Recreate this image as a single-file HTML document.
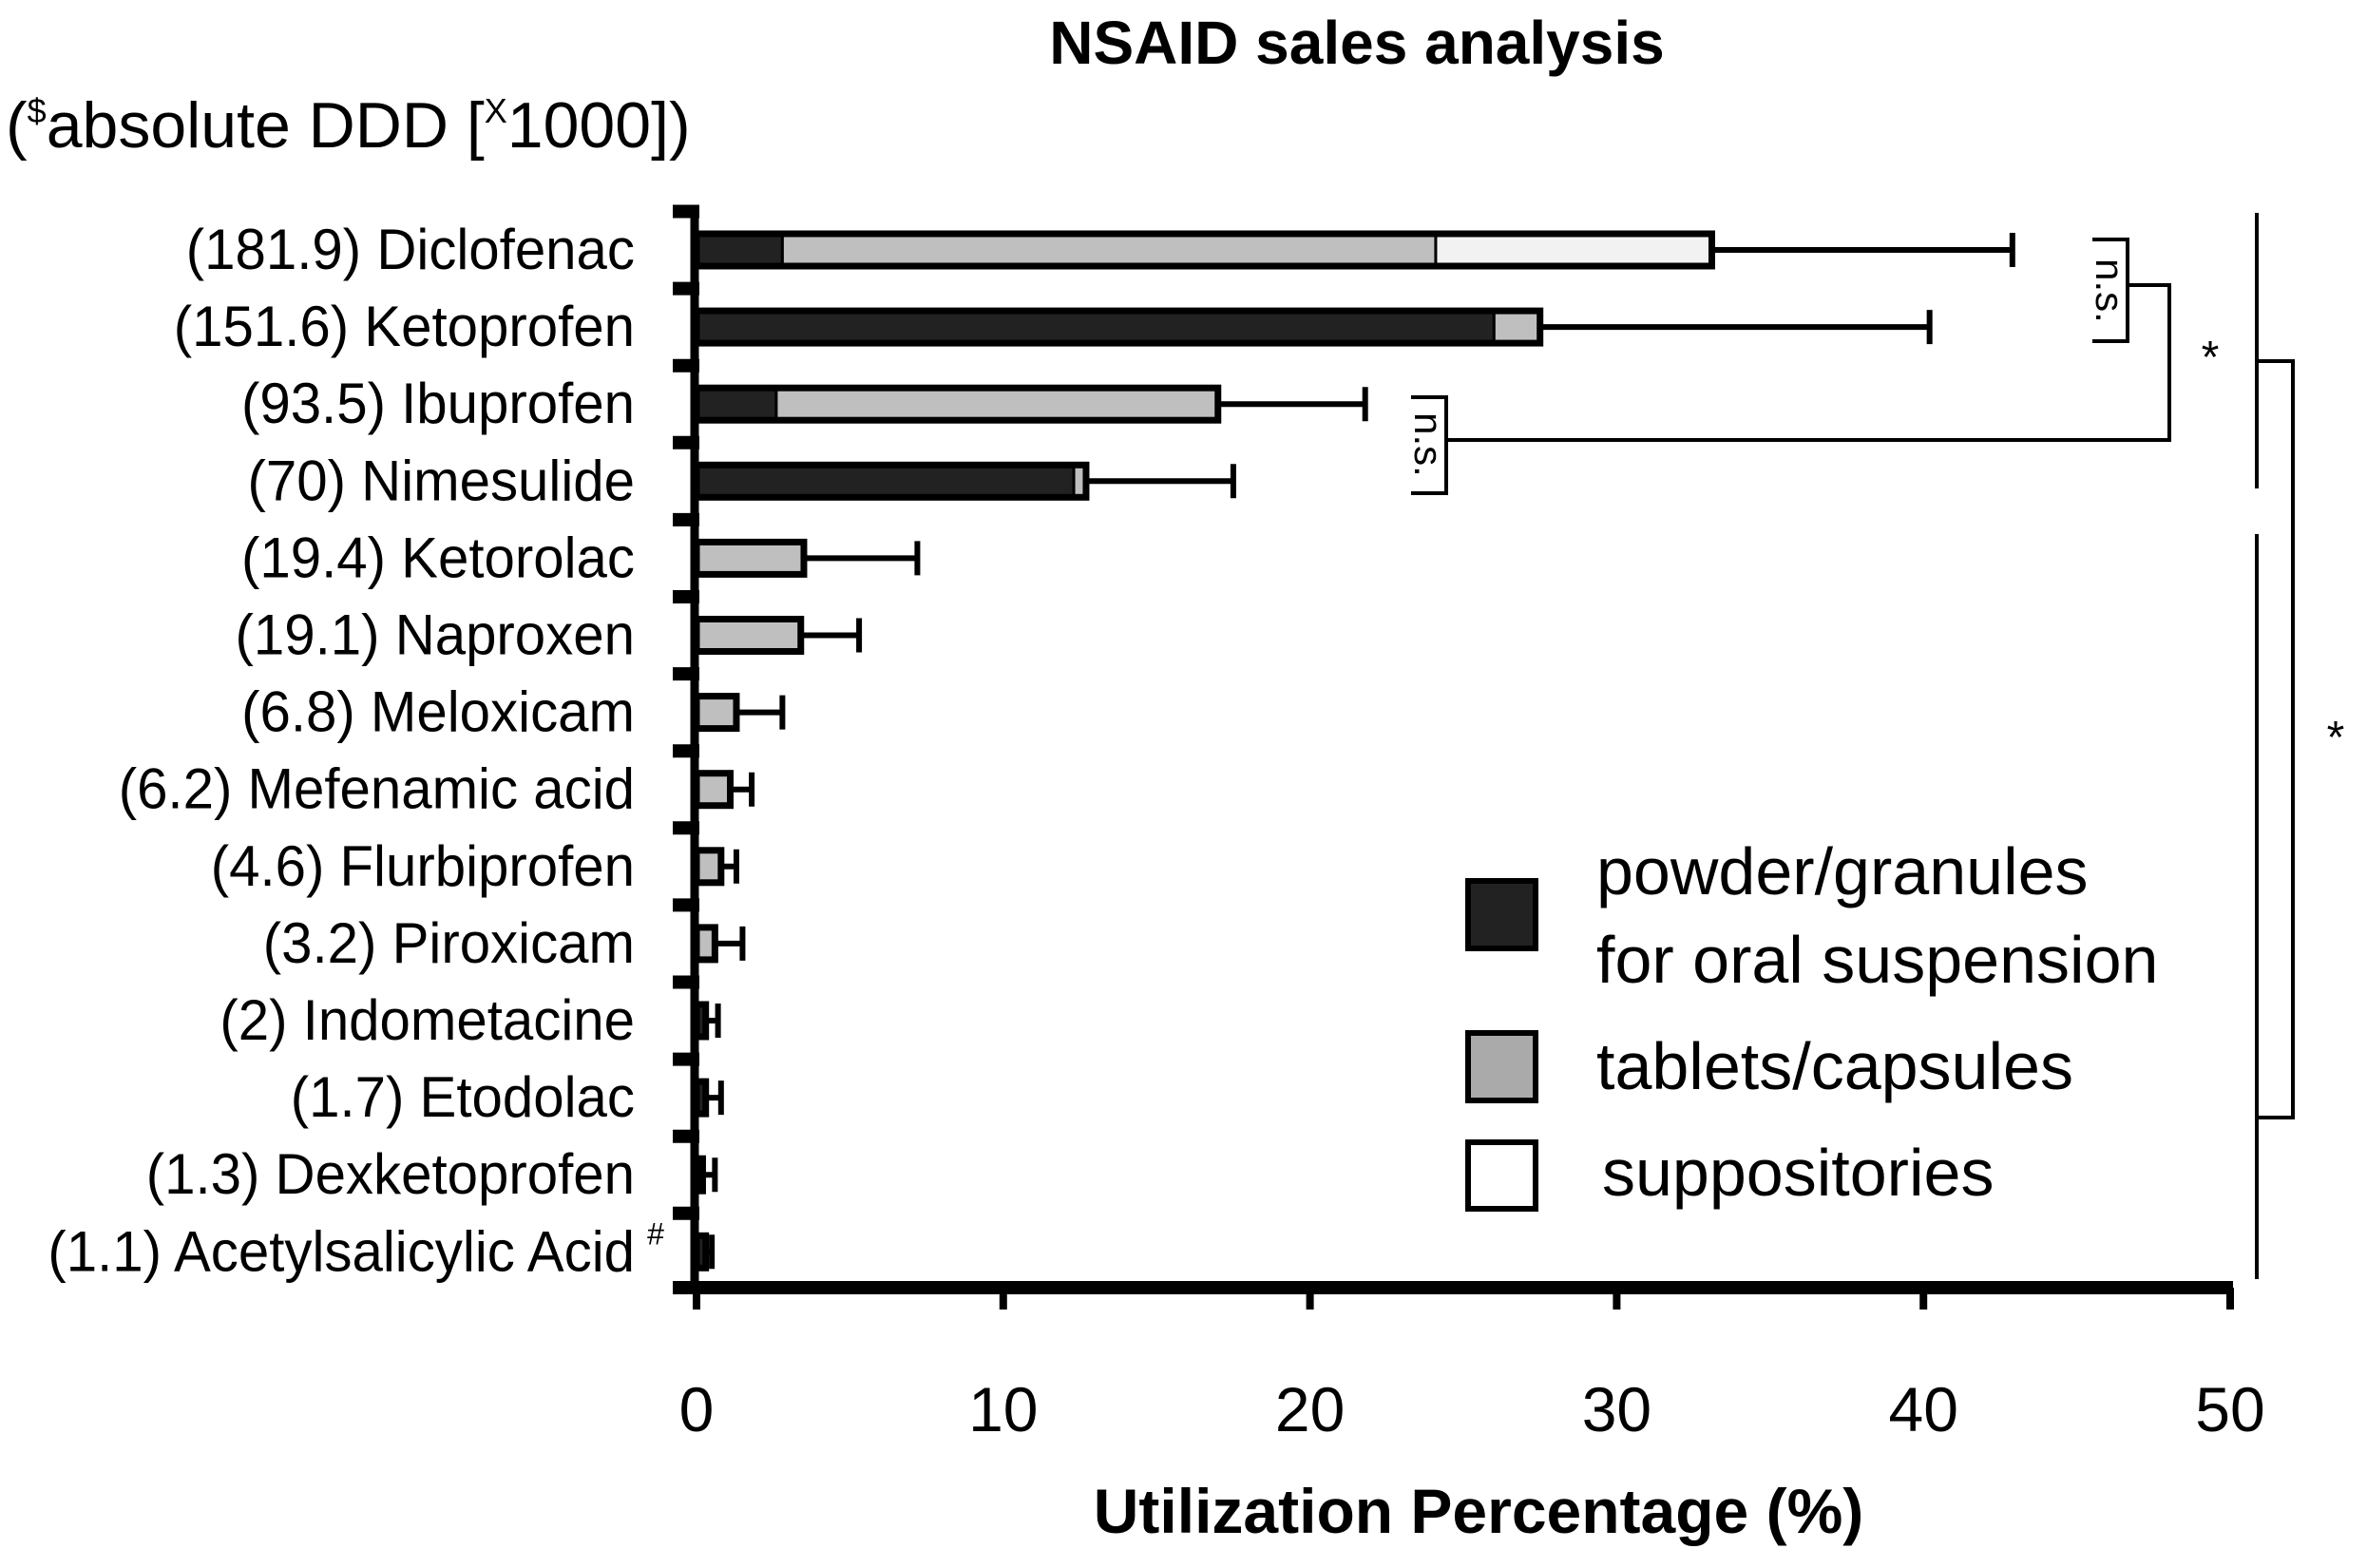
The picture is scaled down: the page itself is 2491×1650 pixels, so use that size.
<!DOCTYPE html>
<html><head><meta charset="utf-8"><style>
html,body{margin:0;padding:0;background:#fff;}
svg{display:block;font-family:"Liberation Sans",sans-serif;}
</style></head><body>
<svg id="chart" width="2491" height="1650" viewBox="0 0 2491 1650">
<text x="1428" y="67" font-size="64" font-weight="bold" text-anchor="middle">NSAID sales analysis</text>
<text x="6" y="155" font-size="68">(<tspan font-size="36" dy="-26">$</tspan><tspan dy="26">absolute DDD [</tspan><tspan font-size="36" dy="-26">X</tspan><tspan dy="26">1000])</tspan></text>
<g id="bars"></g>
<g id="labels"></g>
<g id="axes"></g>
<text x="1556" y="1613" font-size="66" font-weight="bold" text-anchor="middle">Utilization Percentage (%)</text>
<g font-size="70">
 <rect x="1545" y="927" width="71" height="71" fill="#222" stroke="#000" stroke-width="6"/>
 <rect x="1545" y="1087" width="71" height="71" fill="#aaa" stroke="#000" stroke-width="6"/>
 <rect x="1545" y="1202" width="71" height="70" fill="#fff" stroke="#000" stroke-width="6"/>
 <text x="1680" y="941">powder/granules</text>
 <text x="1680" y="1034">for oral suspension</text>
 <text x="1680" y="1146">tablets/capsules</text>
 <text x="1686" y="1258">suppositories</text>
</g>
<g stroke="#000" stroke-width="4" fill="none">
 <path d="M2202 252 H2239 V359 H2202"/>
 <path d="M2239 300 H2283 V463 H1522"/>
 <path d="M1485 418 H1522 V519 H1485"/>
 <path d="M2375 224 V514"/>
 <path d="M2375 562 V1346"/>
 <path d="M2375 380 H2413 V1176 H2375"/>
</g>
<text font-size="42" transform="translate(2206 306) rotate(90)" text-anchor="middle">n.s.</text>
<text font-size="42" transform="translate(1489 468) rotate(90)" text-anchor="middle">n.s.</text>
<text x="2326" y="392" font-size="48" text-anchor="middle">*</text>
<text x="2458" y="792" font-size="48" text-anchor="middle">*</text>
</svg>
<script>
const categories=["(181.9) Diclofenac","(151.6) Ketoprofen","(93.5) Ibuprofen","(70) Nimesulide","(19.4) Ketorolac","(19.1) Naproxen","(6.8) Meloxicam","(6.2) Mefenamic acid","(4.6) Flurbiprofen","(3.2) Piroxicam","(2) Indometacine","(1.7) Etodolac","(1.3) Dexketoprofen","(1.1) Acetylsalicylic Acid"];
const powder=[2.8,26.0,2.6,12.3,0,0,0,0,0,0,0.3,0.3,0.2,0.3];
const tablets=[21.3,1.5,14.4,0.4,3.5,3.4,1.3,1.1,0.8,0.6,0,0,0,0];
const suppositories=[9.0,0,0,0,0,0,0,0,0,0,0,0,0,0];
const errorTop=[42.9,40.2,21.8,17.5,7.2,5.3,2.8,1.8,1.3,1.5,0.7,0.8,0.6,0.5];
const xTicks=[0,10,20,30,40,50];
const NS="http://www.w3.org/2000/svg";
const X0=733,X1=2347,XMAX=50;
const x=v=>X0+(X1-X0)*v/XMAX;
const rowY=i=>263+i*81.1;
function mk(p,tag,at){const e=document.createElementNS(NS,tag);for(const k in at)e.setAttribute(k,at[k]);p.appendChild(e);return e;}
const bars=document.getElementById('bars'),labels=document.getElementById('labels'),axes=document.getElementById('axes');
const BH=34;
categories.forEach((c,i)=>{
  const cy=rowY(i);
  const t=mk(labels,'text',{x:0,y:cy+20,'font-size':60,'text-anchor':'end',transform:`translate(668 0) scale(0.97 1)`});
  
  
  t.textContent=c;
  if(i===categories.length-1){const s=mk(labels,'text',{x:690,y:cy-8,'font-size':32,'text-anchor':'middle'});s.textContent='#';}
  const tot=powder[i]+tablets[i]+suppositories[i];
  const e=mk(bars,'path',{d:`M${x(tot)} ${cy} H${x(errorTop[i])} M${x(errorTop[i])} ${cy-18} V${cy+18}`,stroke:'#000','stroke-width':6,fill:'none'});
  
  
  let acc=0;
  [[powder,'#222','powder'],[tablets,'#bfbfbf','tablets'],[suppositories,'#f2f2f2','suppositories']].forEach(([arr,col,nm])=>{
    const v=arr[i];if(v<=0)return;
    const r=mk(bars,'rect',{x:x(acc),y:cy-BH/2,width:x(acc+v)-x(acc),height:BH,fill:col,stroke:'#000','stroke-width':3});
    
    
    acc+=v;
  });
  const o=mk(bars,'rect',{x:x(0),y:cy-BH/2,width:x(tot)-x(0),height:BH,fill:'none',stroke:'#000','stroke-width':7});
  
  
  const yt=mk(axes,'line',{x1:708,x2:736,y1:cy-40.5,y2:cy-40.5,stroke:'#000','stroke-width':14});
  
  
});
const ya=mk(axes,'line',{x1:731,x2:731,y1:224,y2:1362,stroke:'#000','stroke-width':9});


const xa=mk(axes,'line',{x1:708,x2:2350,y1:1355,y2:1355,stroke:'#000','stroke-width':14});


xTicks.forEach(v=>{
  const l=mk(axes,'line',{x1:x(v),x2:x(v),y1:1355,y2:1378,stroke:'#000','stroke-width':8});
  
  
  const t=mk(axes,'text',{x:x(v),y:1506,'font-size':66,'text-anchor':'middle'});
  
  
  t.textContent=v;
});
</script>
</body></html>
